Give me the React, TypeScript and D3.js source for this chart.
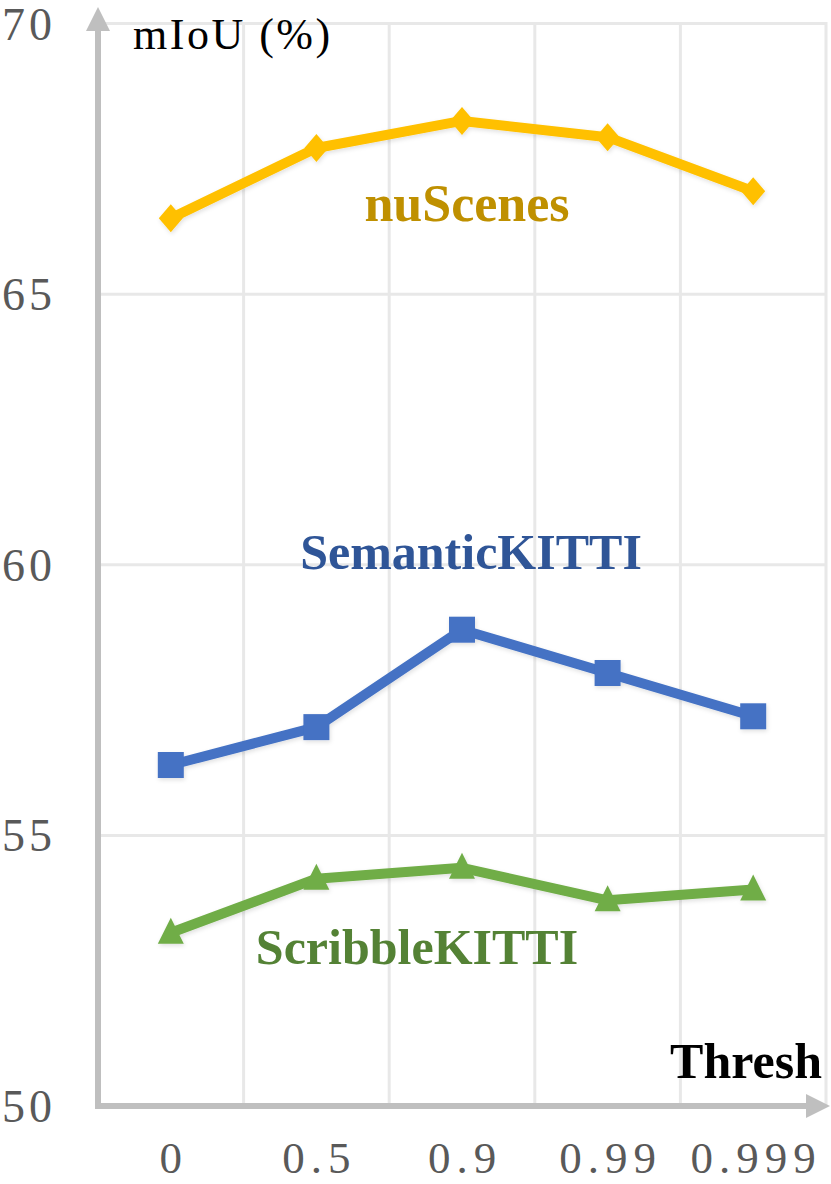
import React from 'react';
import * as d3 from 'd3';

const thresholds = ['0', '0.5', '0.9', '0.99', '0.999'];
const nuScenes = [66.4, 67.7, 68.2, 67.9, 66.9];
const semanticKitti = [56.3, 57.0, 58.8, 58.0, 57.2];
const scribbleKitti = [53.2, 54.2, 54.4, 53.8, 54.0];
const yTicks = [50, 55, 60, 65, 70];

const width = 831;
const height = 1184;
const margin = { left: 98, right: 5, top: 23.5, bottom: 78 };

const series = [
  { name: 'nuScenes', values: nuScenes, color: '#FFC000', labelColor: '#BF9000', marker: 'diamond', lx: 467, ly: 221, size: 52 },
  { name: 'SemanticKITTI', values: semanticKitti, color: '#4472C4', labelColor: '#2F5597', marker: 'square', lx: 471, ly: 569, size: 50 },
  { name: 'ScribbleKITTI', values: scribbleKitti, color: '#70AD47', labelColor: '#548235', marker: 'triangle', lx: 417, ly: 964, size: 50 },
];

const App = () => {
  const x = d3
    .scaleBand()
    .domain(thresholds)
    .range([margin.left, width - margin.right]);

  const y = d3
    .scaleLinear()
    .domain([50, 70])
    .range([height - margin.bottom, margin.top]);

  const line = d3
    .line<number>()
    .x((d, i) => x(thresholds[i])! + x.bandwidth() / 2)
    .y((d) => y(d));

  const symbol = (kind) => {
    if (kind === 'diamond') return 'M0,-14L12,0L0,14L-12,0Z';
    if (kind === 'square') return 'M-13,-13H13V13H-13Z';
    return 'M0,-15L13,11H-13Z';
  };

  const y0 = y(50);
  const gridColor = '#E8E8E8';
  const axisColor = '#BFBFBF';

  return (
    <svg width={width} height={height} style={{ display: 'block', position: 'absolute', left: 0, top: 0 }}>
      <defs>
        <filter id="shadow" x="-20%" y="-20%" width="140%" height="140%">
          <feDropShadow dx="1" dy="2" stdDeviation="2" floodColor="#000" floodOpacity="0.12" />
        </filter>
      </defs>
      <rect width={width} height={height} fill="#fff" />

      {/* horizontal grid */}
      {yTicks.filter((t) => t > 50).map((t) => (
        <line key={'h' + t} x1={margin.left} x2={x.range()[1] + 1} y1={y(t)} y2={y(t)} stroke={gridColor} strokeWidth={3} />
      ))}
      {/* vertical grid at band edges */}
      {thresholds.map((t) => (
        <line
          key={'v' + t}
          x1={x(t)! + x.bandwidth()}
          x2={x(t)! + x.bandwidth()}
          y1={y(70) - 1.5}
          y2={y0}
          stroke={gridColor}
          strokeWidth={3}
        />
      ))}

      {/* axes with arrows */}
      <line x1={margin.left} x2={margin.left} y1={y0 + 3} y2={26} stroke={axisColor} strokeWidth={6} />
      <path d={`M${margin.left},7L${margin.left + 12},31H${margin.left - 12}Z`} fill={axisColor} />
      <line x1={margin.left - 3} x2={808} y1={y0} y2={y0} stroke={axisColor} strokeWidth={6} />
      <path d={`M830,${y0}L806,${y0 - 12}V${y0 + 12}Z`} fill={axisColor} />

      {/* y tick labels */}
      {yTicks.map((t) => (
        <text
          key={'yt' + t}
          x={2}
          y={y(t)}
          dy="0.35em"
          fontFamily="'Liberation Serif', serif"
          fontSize={46}
          letterSpacing={4}
          fill="#595959"
        >
          {t}
        </text>
      ))}

      {/* x tick labels */}
      {thresholds.map((t) => (
        <text
          key={'xt' + t}
          x={x(t)! + x.bandwidth() / 2 + 3}
          y={1173}
          textAnchor="middle"
          fontFamily="'Liberation Serif', serif"
          fontSize={45}
          letterSpacing={6}
          fill="#595959"
        >
          {t}
        </text>
      ))}

      {/* axis titles */}
      <text x={133} y={49} fontFamily="'Liberation Serif', serif" fontSize={44} letterSpacing={2.5} fill="#000">
        mIoU (%)
      </text>
      <text x={822} y={1078} textAnchor="end" fontFamily="'Liberation Serif', serif" fontWeight="bold" fontSize={50} fill="#000">
        Thresh
      </text>

      {/* series */}
      {series.map((s) => (
        <g key={s.name} filter="url(#shadow)">
          <path d={line(s.values)!} fill="none" stroke={s.color} strokeWidth={10} strokeLinejoin="round" />
          {s.values.map((v, i) => (
            <path
              key={i}
              d={symbol(s.marker)}
              transform={`translate(${x(thresholds[i])! + x.bandwidth() / 2},${y(v)})`}
              fill={s.color}
            />
          ))}
        </g>
      ))}

      {/* series labels */}
      {series.map((s) => (
        <text
          key={'l' + s.name}
          x={s.lx}
          y={s.ly}
          textAnchor="middle"
          fontFamily="'Liberation Serif', serif"
          fontWeight="bold"
          fontSize={s.size}
          fill={s.labelColor}
        >
          {s.name}
        </text>
      ))}
    </svg>
  );
};

export default App;
